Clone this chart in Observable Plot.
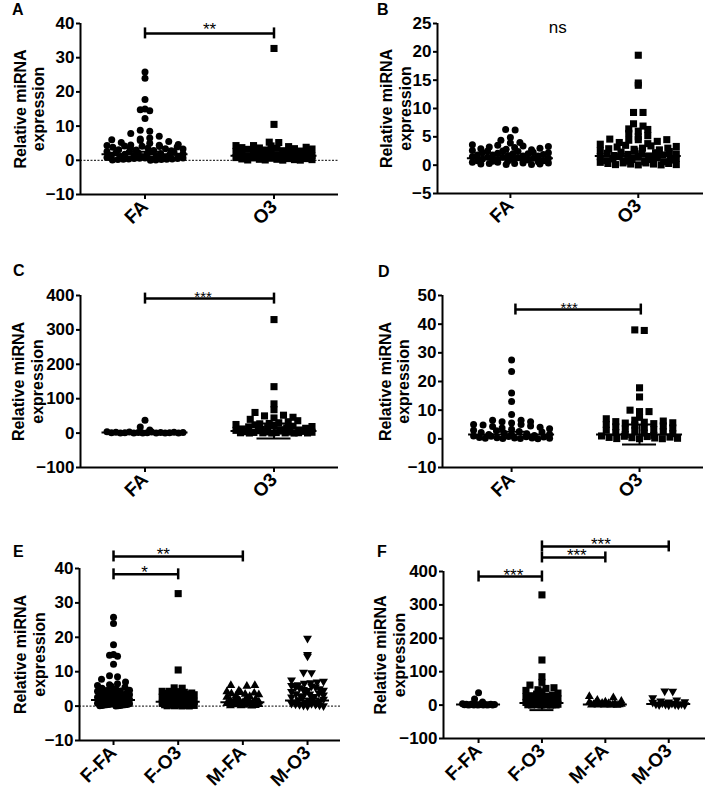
<!DOCTYPE html>
<html><head><meta charset="utf-8">
<script src="https://cdn.jsdelivr.net/npm/d3@7"></script>
<script src="https://cdn.jsdelivr.net/npm/@observablehq/plot@0.6"></script>
<style>
body{margin:0;background:#fff;font-family:"Liberation Sans",Arial,sans-serif}
#fig{position:relative;width:710px;height:795px;overflow:hidden}
#fig svg{position:absolute}
.letter{position:absolute;font-weight:bold;font-size:16px;line-height:16px;color:#000}
</style></head>
<body><div id="fig"></div>
<script>
// ---------- labels ----------
const yLabel = "Relative miRNA\nexpression";
const catsTwo = ["FA", "O3"];
const catsFour = ["F-FA", "F-O3", "M-FA", "M-O3"];
const ticksA = [-10, 0, 10, 20, 30, 40];
const ticksB = [-5, 0, 5, 10, 15, 20, 25];
const ticksC = [-100, 0, 100, 200, 300, 400];
const ticksD = [-10, 0, 10, 20, 30, 40, 50];

// ---------- values ----------
const femFA = [25.8, 24.0, 17.8, 15.0, 14.8, 14.5, 12.2, 8.8, 8.5, 7.8, 7.0, 6.5, 6.2, 6.0, 5.8, 5.5, 5.2, 5.0,
  4.6, 4.5, 4.4, 4.3, 4.2, 4.1, 4.0, 3.9, 3.8, 3.6, 3.5, 3.4, 3.3, 3.1, 3.0, 2.9, 2.8, 2.6, 2.5, 2.4, 2.3, 2.2,
  2.1, 2.0, 1.9, 1.8, 1.7, 1.6, 1.5, 1.4, 1.3, 1.2, 1.1, 1.0, 0.9, 0.8, 0.7, 0.7, 0.6, 0.5, 0.5, 0.4, 0.4, 0.3,
  0.3, 0.2, 0.2, 0.1, 0.1, 0.05];
const femO3 = [32.7, 10.5, 5.3, 5.2, 4.3, 4.3, 4.2, 4.0, 3.8, 3.7, 3.6, 3.5, 3.4, 3.3, 3.2, 3.0, 2.8, 2.7, 2.6,
  2.5, 2.4, 2.2, 2.0, 1.9, 1.8, 1.6, 1.5, 1.4, 1.3, 1.2, 1.0, 0.9, 0.8, 0.7, 0.6, 0.5, 0.5, 0.4, 0.3, 0.3, 0.2,
  0.2, 0.1, 0.1, 0.05, 0.05];
const bFA = [6.3, 6.2, 4.9, 4.4, 4.0, 3.9, 3.6, 3.5, 3.4, 3.3, 3.2, 3.1, 3.0, 2.9, 2.8, 2.7, 2.6, 2.5, 2.5, 2.4,
  2.3, 2.2, 2.2, 2.1, 2.0, 2.0, 1.9, 1.8, 1.8, 1.7, 1.6, 1.6, 1.5, 1.4, 1.4, 1.3, 1.2, 1.2, 1.1, 1.0, 1.0, 0.9,
  0.8, 0.8, 0.7, 0.7, 0.6, 0.6, 0.5, 0.5, 0.4, 0.4, 0.3, 0.3, 0.2, 0.2, 0.1, 0.1];
const bO3 = [19.4, 14.5, 14.1, 9.3, 9.3, 7.3, 6.9, 6.4, 6.3, 6.0, 5.6, 5.2, 5.0, 4.6, 4.5, 4.5, 4.4, 4.2, 4.0,
  3.8, 3.7, 3.5, 3.4, 3.3, 3.2, 3.0, 3.0, 2.9, 2.8, 2.7, 2.6, 2.5, 2.4, 2.3, 2.2, 2.1, 2.0, 2.0, 1.9, 1.8, 1.7,
  1.6, 1.5, 1.5, 1.4, 1.3, 1.2, 1.1, 1.0, 1.0, 0.9, 0.8, 0.7, 0.6, 0.6, 0.5, 0.4, 0.4, 0.3, 0.3, 0.2, 0.2, 0.1,
  0.1, 0.05, 0.05];
const cFA = [37, 18, 9, 4.0, 3.5, 3.0, 2.5, 2.2, 2.0, 1.8, 1.5, 1.2, 1.0, 0.9, 0.8, 0.6, 0.5, 0.4, 0.3, 0.2, 0.1];
const cO3 = [330, 135, 85, 68, 60, 52, 50, 46, 44, 40, 36, 33, 30, 28, 27, 25, 24, 22, 20, 19, 18, 16, 15, 14,
  12, 11, 10, 9, 8, 7, 6, 5, 4, 3.5, 3, 2.5, 2, 1.5, 1.2, 1, 0.8, 0.6, 0.5, 0.3, 0.2, 0.1];
const dFA = [27.5, 23.5, 16, 13, 8.5, 6.5, 6.5, 6.0, 6.0, 5.5, 5.0, 5.0, 4.8, 4.5, 4.3, 4.0, 3.8, 3.5, 3.3, 3.0,
  2.8, 2.6, 2.4, 2.2, 2.0, 1.8, 1.6, 1.5, 1.4, 1.2, 1.0, 0.9, 0.8, 0.7, 0.6, 0.5, 0.4, 0.3, 0.3, 0.2, 0.2, 0.1,
  0.1, 0.05];
const dO3 = [38, 37.8, 17.8, 14.6, 10, 9.5, 9.5, 7.5, 7.0, 6.5, 6.2, 6.0, 5.8, 5.6, 5.5, 5.3, 5.0, 4.8, 4.5, 4.2,
  4.0, 3.8, 3.5, 3.2, 3.0, 2.8, 2.5, 2.2, 2.0, 1.8, 1.5, 1.2, 1.0, 0.9, 0.8, 0.6, 0.5, 0.4, 0.3, 0.2, 0.1, 0.05,
  0.05];
const eMFA = [6.0, 6.0, 5.8, 4.5, 4.2, 4.0, 3.8, 3.6, 3.5, 3.3, 3.0, 2.8, 2.6, 2.5, 2.2, 2.0, 1.8, 1.6, 1.5, 1.3,
  1.2, 1.0, 0.9, 0.8, 0.7, 0.6, 0.5, 0.4, 0.3, 0.2, 0.1, 0.1, 0.05];
const eMO3 = [19.7, 15.0, 14.5, 9.8, 9.7, 7.6, 7.2, 7.0, 6.8, 6.6, 6.2, 6.0, 5.8, 5.6, 5.5, 5.3, 5.0, 4.8, 4.6,
  4.5, 4.2, 4.0, 3.8, 3.6, 3.5, 3.2, 3.0, 2.8, 2.6, 2.5, 2.2, 2.0, 1.8, 1.6, 1.5, 1.2, 1.0, 0.9, 0.8, 0.7, 0.6,
  0.5, 0.4, 0.3, 0.2, 0.1, 0.05];
const fMFA = [26, 22, 15, 12, 10, 8, 7, 6, 5, 4, 3, 2.5, 2, 1.5, 1.2, 1, 0.8, 0.5, 0.3, 0.2, 0.1];
const fMO3 = [42, 41, 22, 15, 12, 10, 9, 8, 6, 5, 4, 3, 2, 1.5, 1, 0.5, 0.3, 0.1];

// ---------- summary lines (centre, lower, upper) ----------
const meanA = [1.75, 1.3], lowA = [1.0, 0.6], highA = [2.5, 2.0];
const meanB = [1.2, 1.6], lowB = [1.0, 1.2], highB = [1.4, 2.0];
const meanC = [1.5, 6], lowC = [-1, -16], highC = [4, 28];
const meanD = [1.5, 1.5], lowD = [0.5, -2], highD = [2.5, 5];
const meanE = [1.75, 1.3, 1.1, 1.6], lowE = [1.0, 0.6, 0.7, 1.0], highE = [2.5, 2.0, 1.5, 2.2];
const meanF = [1.5, 6, 2, 3], lowF = [-1, -15, 0, 0], highF = [4, 27, 4, 6];

// ---------- significance labels ----------
const sigA = ["**"], sigB = ["ns"], sigC = ["***"], sigD = ["***"], sigE = ["**", "*"], sigF = ["***", "***", "***"];

// ---------- symbols ----------
const triDown = {draw(ctx, size) {
  const y = -Math.sqrt(size / (Math.sqrt(3) * 3));
  ctx.moveTo(0, -y * 2);
  ctx.lineTo(-Math.sqrt(3) * y, y);
  ctx.lineTo(Math.sqrt(3) * y, y);
  ctx.closePath();
}};

const gcd = (a, b) => b ? gcd(b, a % b) : a;
function layout(values, cat, yPix, step, nCols, pxX, rowH) {
  const zero = yPix(0);
  const rows = new Map();
  values.forEach(v => {
    const k = Math.round((zero - yPix(v)) / rowH);
    if (!rows.has(k)) rows.set(k, []);
    rows.get(k).push(v);
  });
  const halfW = (nCols - 1) / 2 * step;
  const pts = [];
  for (const [k, vs] of rows) {
    const n = vs.length;
    let offs;
    if (n <= nCols) offs = d3.range(n).map(j => (j - (n - 1) / 2) * step);
    else offs = d3.range(n).map(j => -halfW + j * 2 * halfW / (n - 1));
    const stride = [3, 5, 7, 2, 1].find(s => gcd(s, n) === 1 && s < n) || 1;
    vs.forEach((v, j) => pts.push({x: cat + offs[(j * stride) % n] / pxX, y: v}));
  }
  return pts;
}

function panel(cfg) {
  const [x0, x1] = cfg.xDomain, [y0, y1] = cfg.yDomain;
  const pxX = (cfg.width - cfg.ml - cfg.mr) / (x1 - x0);
  const pxY = (cfg.height - cfg.mt - cfg.mb) / (y1 - y0);
  const yPix = d3.scaleLinear([y0, y1], [cfg.height - cfg.mb, cfg.mt]);
  const marks = [];
  if (cfg.zero) marks.push(Plot.ruleY([0], {x1: x0, x2: x1, stroke: "#000", strokeWidth: 1, strokeDasharray: "2,1.5"}));
  cfg.groups.forEach((g, i) => {
    const pts = layout(g.values, i + 1, yPix, cfg.step, cfg.nCols, pxX, 6);
    marks.push(Plot.dot(pts, {x: "x", y: "y", symbol: g.symbol, r: g.r, fill: "#000", stroke: "none"}));
  });
  const summ = cfg.cats.map((c, i) => ({i: i + 1, m: cfg.mean[i], lo: cfg.low[i], hi: cfg.high[i]}));
  const mh = cfg.meanHalf / pxX, ch = cfg.capHalf / pxX;
  marks.push(Plot.ruleY(summ, {y: "m", x1: d => d.i - mh, x2: d => d.i + mh, strokeWidth: 2}));
  marks.push(Plot.ruleX(summ, {x: "i", y1: "lo", y2: "hi", strokeWidth: 2}));
  marks.push(Plot.ruleY(summ, {y: "lo", x1: d => d.i - ch, x2: d => d.i + ch, strokeWidth: 2}));
  marks.push(Plot.ruleY(summ, {y: "hi", x1: d => d.i - ch, x2: d => d.i + ch, strokeWidth: 2}));
  // axes
  marks.push(Plot.ruleX([x0], {y1: y0, y2: y1, strokeWidth: 2}));
  marks.push(Plot.ruleY([y0], {x1: x0, x2: x1, strokeWidth: 2}));
  marks.push(Plot.axisY({ticks: cfg.yTicks, tickSize: 4, tickPadding: 2, strokeWidth: 2,
    fontSize: 17, fontWeight: "bold", label: null}));
  marks.push(Plot.axisX({ticks: cfg.cats.map((c, i) => i + 1), tickFormat: v => cfg.cats[v - 1],
    tickSize: 5, tickPadding: 4, tickRotate: -45, strokeWidth: 2, fontSize: 19, fontWeight: "bold", label: null}));
  marks.push(Plot.text([yLabel], {text: d => d, frameAnchor: "left", rotate: -90, dx: cfg.labelDx,
    textAnchor: "middle", fontSize: 16, fontWeight: "bold", lineHeight: 1.15}));
  // brackets
  const br = cfg.brackets.map((b, k) => ({...b, label: cfg.sig[k]}));
  const capU = 5.5 / pxY;
  const lines = br.filter(b => b.line);
  marks.push(Plot.ruleY(lines, {y: "y", x1: "from", x2: "to", strokeWidth: 2.5}));
  const caps = lines.flatMap(b => [{x: b.from, y: b.y}, {x: b.to, y: b.y}]);
  marks.push(Plot.ruleX(caps, {x: "x", y1: d => d.y - capU, y2: d => d.y + capU, strokeWidth: 2.5}));
  marks.push(Plot.text(br, {x: "tx", y: "y", text: "label", lineAnchor: "bottom", dy: cfg.textDy, fontSize: cfg.sigSize}));
  const svg = Plot.plot({
    width: cfg.width, height: cfg.height,
    marginTop: cfg.mt, marginBottom: cfg.mb, marginLeft: cfg.ml, marginRight: cfg.mr,
    x: {domain: cfg.xDomain}, y: {domain: cfg.yDomain},
    style: {fontFamily: "'Liberation Sans', Arial, sans-serif", fontSize: "16px", background: "none", overflow: "visible", color: "#000"},
    marks
  });
  svg.style.left = cfg.left + "px";
  svg.style.top = cfg.top + "px";
  return svg;
}

const fig = document.getElementById("fig");
const panels = [
  {letter: "A", lx: 12, ly: 2, left: 0, top: 0, width: 355, height: 255, mt: 23, mb: 61, ml: 80, mr: 17,
   xDomain: [0.5, 2.5], yDomain: [-10, 40], yTicks: ticksA, cats: catsTwo, zero: true,
   groups: [{values: femFA, symbol: "circle", r: 3.5}, {values: femO3, symbol: "square", r: 4.0}],
   mean: meanA, low: lowA, high: highA, step: 9.5, nCols: 9, meanHalf: 43, capHalf: 17, labelDx: -51.5,
   sig: sigA, brackets: [{from: 1, to: 2, y: 37.1, tx: 1.5, line: true}], textDy: 2, sigSize: 17},
  {letter: "B", lx: 377, ly: 2, left: 355, top: 0, width: 355, height: 255, mt: 23, mb: 62, ml: 82, mr: 7,
   xDomain: [0.43, 2.51], yDomain: [-5, 25], yTicks: ticksB, cats: catsTwo, zero: false,
   groups: [{values: bFA, symbol: "circle", r: 3.5}, {values: bO3, symbol: "square", r: 4.0}],
   mean: meanB, low: lowB, high: highB, step: 9.5, nCols: 9, meanHalf: 43, capHalf: 17, labelDx: -42,
   sig: sigB, brackets: [{from: 1, to: 2, y: 23.4, tx: 1.37, line: false}], textDy: 0, sigSize: 17},
  {letter: "C", lx: 13, ly: 263, left: 0, top: 255, width: 355, height: 255, mt: 40, mb: 43, ml: 80, mr: 17,
   xDomain: [0.5, 2.5], yDomain: [-100, 400], yTicks: ticksC, cats: catsTwo, zero: false,
   groups: [{values: cFA, symbol: "circle", r: 3.5}, {values: cO3, symbol: "square", r: 4.0}],
   mean: meanC, low: lowC, high: highC, step: 9.5, nCols: 9, meanHalf: 43, capHalf: 17, labelDx: -53,
   sig: sigC, brackets: [{from: 1, to: 2, y: 391, tx: 1.45, line: true}], textDy: 3, sigSize: 15},
  {letter: "D", lx: 378, ly: 264, left: 355, top: 255, width: 355, height: 255, mt: 40, mb: 43, ml: 87, mr: 7,
   xDomain: [0.46, 2.5], yDomain: [-10, 50], yTicks: ticksD, cats: catsTwo, zero: false,
   groups: [{values: dFA, symbol: "circle", r: 3.5}, {values: dO3, symbol: "square", r: 4.0}],
   mean: meanD, low: lowD, high: highD, step: 9.5, nCols: 9, meanHalf: 43, capHalf: 17, labelDx: -48.5,
   sig: sigD, brackets: [{from: 1.03, to: 2.01, y: 45.1, tx: 1.45, line: true}], textDy: 3, sigSize: 15},
  {letter: "E", lx: 13, ly: 544, left: 0, top: 510, width: 355, height: 285, mt: 58, mb: 55, ml: 79, mr: 15,
   xDomain: [0.474, 4.51], yDomain: [-10, 40], yTicks: ticksA, cats: catsFour, zero: true,
   groups: [{values: femFA, symbol: "circle", r: 3.5}, {values: femO3, symbol: "square", r: 4.0},
            {values: eMFA, symbol: "triangle", r: 3.3}, {values: eMO3, symbol: triDown, r: 3.3}],
   mean: meanE, low: lowE, high: highE, step: 8, nCols: 5, meanHalf: 22, capHalf: 12, labelDx: -50,
   sig: sigE, brackets: [{from: 1, to: 3, y: 43.5, tx: 1.77, line: true}, {from: 1, to: 2, y: 38.3, tx: 1.48, line: true}],
   textDy: 4, sigSize: 17},
  {letter: "F", lx: 377, ly: 544, left: 355, top: 510, width: 355, height: 285, mt: 61, mb: 57, ml: 88, mr: 5,
   xDomain: [0.447, 4.58], yDomain: [-100, 400], yTicks: ticksC, cats: catsFour, zero: false,
   groups: [{values: cFA, symbol: "circle", r: 3.5}, {values: cO3, symbol: "square", r: 4.0},
            {values: fMFA, symbol: "triangle", r: 3.3}, {values: fMO3, symbol: triDown, r: 3.3}],
   mean: meanF, low: lowF, high: highF, step: 8, nCols: 5, meanHalf: 22, capHalf: 12, labelDx: -54,
   sig: sigF, brackets: [{from: 2, to: 4, y: 475, tx: 2.93, line: true}, {from: 2, to: 3, y: 442, tx: 2.55, line: true},
                         {from: 1, to: 2, y: 385, tx: 1.55, line: true}], textDy: 4, sigSize: 17}
];
for (const p of panels) {
  fig.appendChild(panel(p));
  const d = document.createElement("div");
  d.className = "letter";
  d.textContent = p.letter;
  d.style.left = p.lx + "px";
  d.style.top = p.ly + "px";
  fig.appendChild(d);
}
</script>
</body></html>
